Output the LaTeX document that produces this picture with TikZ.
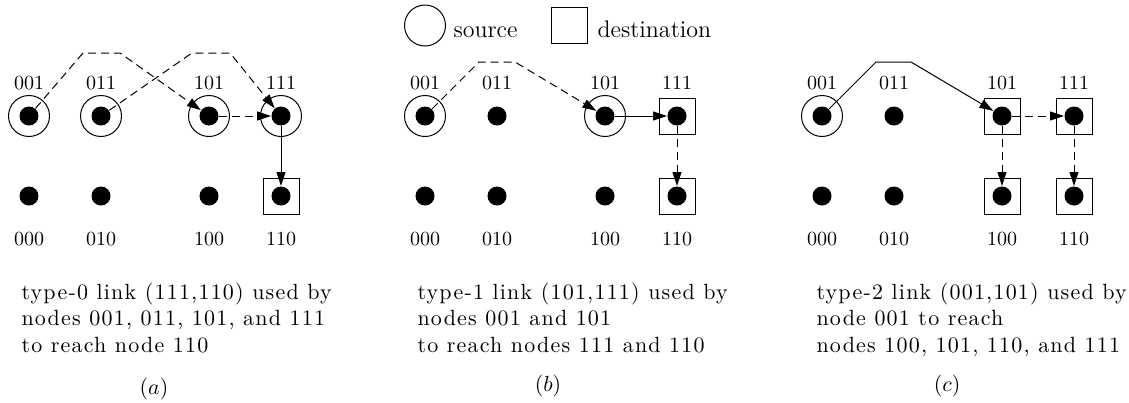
\documentclass[tikz,border=0pt]{standalone}
\usepackage{fontspec}
\usepackage{tikz}
\usetikzlibrary{arrows.meta, positioning}
\newfontfamily\spacedfont{lmroman10-regular.otf}[LetterSpace=5.5]

\tikzset{
  dot/.style={circle, fill=black, inner sep=0pt, minimum size=9.5pt},
  srcring/.style={circle, draw, inner sep=0pt, minimum size=20.5pt},
  dstbox/.style={rectangle, draw, inner sep=0pt, minimum size=18pt},
  addr/.style={font=\fontsize{10}{12}\selectfont, inner sep=0pt},
  legtxt/.style={font=\fontsize{12}{14}\selectfont, inner sep=0pt},
  hop/.style={-{Triangle[length=7pt, width=4.5pt]}, line width=0.5pt},
  dhop/.style={hop, dash pattern=on 4pt off 2.5pt},
  desc/.style={font=\spacedfont\fontsize{11}{13.25}\selectfont, align=left, inner sep=0pt, anchor=north west},
  tag/.style={font=\fontsize{10.5}{12}\selectfont, inner sep=0pt},
}

\begin{document}
\begin{tikzpicture}[x=0.5pt, y=-0.5pt, line width=0.5pt]
  \useasboundingbox (0,0) rectangle (1129,402);

  % legend
  \node[srcring] (legsrc) at (425,25.5) {};
  \node[legtxt, right=3.5pt of legsrc, anchor=base west, yshift=-5.75pt] (legsrctxt) {source};
  \node[dstbox] (legdst) at (569.5,25.5) {};
  \node[legtxt, right=4.5pt of legdst, anchor=base west, yshift=-5.75pt] (legdsttxt) {destination};

  % dots with addresses, one set per panel
  \foreach \p/\ox in {a/29, b/425, c/822} {
    \foreach \n/\dx in {001/0, 011/72, 101/180, 111/252}
      \node[dot, label={[addr, label distance=8pt]above:\n}] (\p\n) at (\ox+\dx, 116) {};
    \foreach \n/\dx in {000/0, 010/72, 100/180, 110/252}
      \node[dot, label={[addr, label distance=13pt]below:\n}] (\p\n) at (\ox+\dx, 196) {};
  }

  % sources and destinations
  \foreach \m in {a001, a011, a101, a111, b001, b101, c001}
    \node[srcring] (ring\m) at (\m) {};
  \foreach \m in {a110, b111, b110, c101, c111, c100, c110}
    \node[dstbox] (box\m) at (\m) {};

  % (a)
  \draw[dhop] (a001) -- ++(54,-63) -- ++(37,0) -- (a101);
  \draw[dhop] (a011) -- ++(91,-63) -- ++(38,0) -- (a111);
  \draw[dhop] (a101) -- (a111);
  \draw[hop] (a111) -- (a110);
  % (b)
  \draw[dhop] (b001) -- ++(54,-54) -- ++(36,0) -- (b101);
  \draw[hop] (b101) -- (b111);
  \draw[dhop] (b111) -- (b110);
  % (c)
  \draw[hop] (c001) -- ++(54,-54) -- ++(35,0) -- (c101);
  \draw[dhop] (c101) -- (c111);
  \draw[dhop] (c101) -- (c100);
  \draw[dhop] (c111) -- (c110);

  % descriptions
  \node[desc] (desca) at (21,282) {type-0 link (111,110) used by\\nodes 001, 011, 101, and 111\\to reach node 110};
  \node[desc] (descb) at (417,282) {type-1 link (101,111) used by\\nodes 001 and 101\\to reach nodes 111 and 110};
  \node[desc] (descc) at (816,282) {type-2 link (001,101) used by\\node 001 to reach\\nodes 100, 101, 110, and 111};

  \node[tag] (capa) at (154,389) {$(a)$};
  \node[tag] (capb) at (548,386) {$(b)$};
  \node[tag] (capc) at (947,386) {$(c)$};
\end{tikzpicture}
\end{document}
